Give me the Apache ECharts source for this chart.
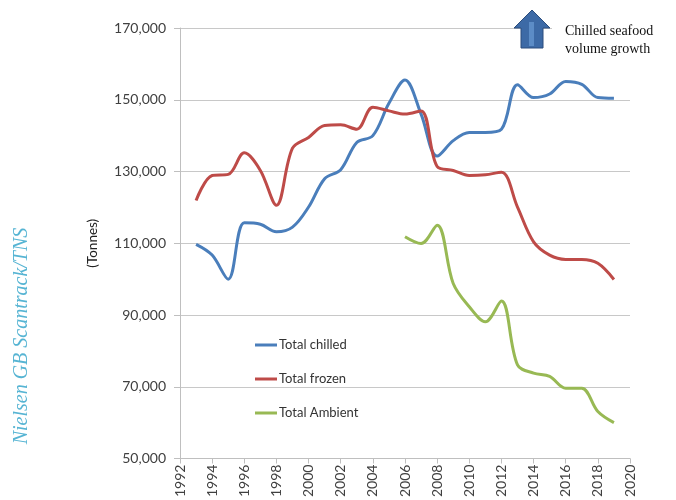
<!DOCTYPE html>
<html>
<head>
<meta charset="utf-8">
<script src="https://cdn.jsdelivr.net/npm/echarts@6/dist/echarts.min.js"></script>
<style>html,body{margin:0;padding:0;background:#fff;}#c{width:676px;height:500px;}</style>
</head>
<body>
<div id="c"></div>
<script>
const years = [1993,1994,1995,1996,1997,1998,1999,2000,2001,2002,2003,2004,2005,2006,2007,2008,2009,2010,2011,2012,2013,2014,2015,2016,2017,2018,2019];
const chilled = [109700,106700,100000,115700,115300,113200,114500,120100,128000,130500,138100,140000,149000,155500,146000,134300,138600,140900,140900,141800,154200,150600,151600,155100,154300,150600,150400];
const frozen = [121900,128900,129200,135200,130300,120600,136500,139500,142800,143000,141800,147900,146900,146000,146900,131400,130300,128900,129100,129800,120100,110400,106700,105500,105500,104400,99900];
const ambientYears = [2006,2007,2008,2009,2010,2011,2012,2013,2014,2015,2016,2017,2018,2019];
const ambient = [111800,109900,115000,98800,92300,88100,93900,76100,73800,72900,69600,69600,63100,60000];
const yTicks = [50000,70000,90000,110000,130000,150000,170000];
const seriesNames = ['Total chilled','Total frozen','Total Ambient'];

const pairs = (xs, vs) => xs.map((x, i) => [x, vs[i]]);
const font = 'Lato, "Open Sans", sans-serif';

const chart = echarts.init(document.getElementById('c'), null, {renderer: 'canvas'});
chart.setOption({
  backgroundColor: '#fff',
  animation: false,
  grid: {left: 180, right: 46, top: 28, bottom: 41, containLabel: false},
  legend: {
    data: seriesNames,
    orient: 'vertical',
    left: 250, top: 333,
    icon: 'rect', itemWidth: 22, itemHeight: 3, itemGap: 20,
    textStyle: {fontFamily: font, fontSize: 13, color: '#333', lineHeight: 14, padding: [0, 0, 0, -3]}
  },
  xAxis: {
    type: 'value', min: 1992, max: 2020, interval: 2,
    axisLine: {show: true, lineStyle: {color: '#bfbfbf', width: 1}},
    axisTick: {show: true, length: 5, lineStyle: {color: '#bfbfbf'}},
    splitLine: {show: false},
    axisLabel: {rotate: 90, margin: 6, fontFamily: font, fontSize: 14, color: '#404040', formatter: v => String(v)}
  },
  yAxis: {
    type: 'value', min: yTicks[0], max: yTicks[yTicks.length-1], interval: 20000,
    name: '(Tonnes)', nameLocation: 'middle', nameRotate: 90, nameGap: 80,
    nameTextStyle: {fontFamily: font, fontSize: 13.5, color: '#222'},
    axisLine: {show: true, lineStyle: {color: '#bfbfbf', width: 1}},
    axisTick: {show: true, length: 6, lineStyle: {color: '#bfbfbf'}},
    splitLine: {show: true, lineStyle: {color: '#c8c8c8', width: 1}},
    axisLabel: {margin: 14, fontFamily: font, fontSize: 14, color: '#404040',
      formatter: v => v.toLocaleString('en-US')}
  },
  series: [
    {name: seriesNames[0], type: 'line', data: pairs(years, chilled), smooth: 0.35, showSymbol: false, symbol: 'none',
     lineStyle: {color: '#4a7ebb', width: 3}, itemStyle: {color: '#4a7ebb'}},
    {name: seriesNames[1], type: 'line', data: pairs(years, frozen), smooth: 0.35, showSymbol: false, symbol: 'none',
     lineStyle: {color: '#be4b48', width: 3}, itemStyle: {color: '#be4b48'}},
    {name: seriesNames[2], type: 'line', data: pairs(ambientYears, ambient), smooth: 0.35, showSymbol: false, symbol: 'none',
     lineStyle: {color: '#98b954', width: 3}, itemStyle: {color: '#98b954'}}
  ],
  graphic: [
    {type: 'rect', left: 552, top: 18, shape: {width: 120, height: 42}, style: {fill: '#fff'}, z: 10},
    {type: 'polygon', z: 11,
     shape: {points: [[532,10],[550,28],[543,28],[543,48],[521,48],[521,28],[514,28]]},
     style: {fill: '#3d6aa6', stroke: '#2c4d7c', lineWidth: 1}},
    {type: 'rect', z: 12, shape: {x: 529, y: 22, width: 5, height: 24}, style: {fill: '#5c8cc6'}},
    {type: 'text', z: 12, left: 565, top: 22,
     style: {text: 'Chilled seafood\nvolume growth', font: '14px "Liberation Serif", serif', fill: '#111', lineHeight: 18}},
    {type: 'text', z: 12, x: 22, y: 336, rotation: Math.PI/2,
     style: {text: 'Nielsen GB Scantrack/TNS', font: 'italic 20px "Liberation Serif", serif', fill: '#56b4d3',
       align: 'center', verticalAlign: 'middle'}}
  ]
});
</script>
</body>
</html>
